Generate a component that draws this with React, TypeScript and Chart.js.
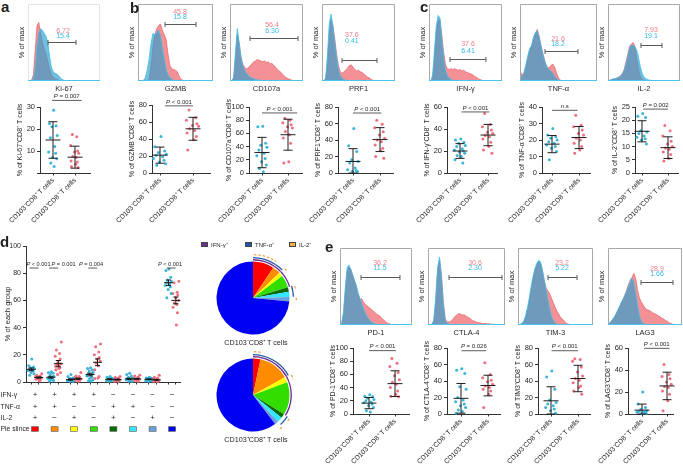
import React, { useEffect, useRef } from 'react';
import { Chart, registerables } from 'chart.js';

Chart.register(...registerables);

const FONT = "'Liberation Sans', Arial, Helvetica, sans-serif";
const INK = '#231f20';
const LBL_NEG = 'CD103⁻CD8⁺ T cells';
const LBL_POS = 'CD103⁺CD8⁺ T cells';

// ---------------- histogram data (x = % of gate box width, y = % of max) ----------------
const HX = [0,2.5,5,7.5,10,12.5,15,17.5,20,22.5,25,27.5,30,32.5,35,37.5,40,42.5,45,47.5,50,52.5,55,57.5,60,62.5,65,67.5,70,72.5,75,77.5,80,82.5,85,87.5,90,92.5,95,97.5,100];

const KI67_RED = [0,0,1,8,40,72,76,62,50,42,35,25,15,8,5,3,2,1,0];
const KI67_BLUE = [0,0,0,3,15,45,62,68,66,62,58,50,32,18,12,10,9,7,4,2,1,0.5,0];
const GZMB_RED = [0,0,0,0,0,0,3,20,45,60,68,72,74,66,60,54,35,20,16,15,14,12,6,2,1,0];
const GZMB_BLUE = [0,0,0,1,5,15,30,50,62,60,63,66,58,42,28,15,8,4,2,1,0];
const CD107A_RED = [0,0,3,30,60,50,32,22,18,16,17,20,22,25,26,28,27,26,25,26,24,25,22,23,20,18,15,13,11,8,6,4,3,2,1,0.5,0];
const CD107A_BLUE = [0,0,5,38,68,50,30,20,14,10,7,5,4,3,2,1.5,1,0.5,0];
const PRF1_RED = [0,0,2,20,60,80,72,55,35,20,12,10,12,14,17,20,21,18,15,13,14,12,11,9,7,5,4,2,1,0];
const PRF1_BLUE = [0,0,4,35,75,87,70,50,30,14,7,3,2,1,0.5,0];
const IFNG_RED = [0,0,5,30,65,78,80,60,38,22,16,15,16,15,16,15,14,15,13,14,12,11,10,9,8,6,5,3,2,1,0];
const IFNG_BLUE = [0,0,8,40,72,85,82,55,30,14,7,4,2,1,0];
const TNFA_RED = [14,8,10,18,30,40,45,55,62,67,58,45,35,25,18,17,20,22,18,10,4,1,0];
const TNFA_BLUE = [4,6,10,20,32,42,46,57,63,65,56,44,33,24,18,15,13,10,6,3,1,0.5,0];
const IL2_RED = [0,1,2,2,3,4,5,7,10,15,25,35,45,48,50,45,28,15,6,2,1,0];
const IL2_BLUE = [0,1,2,3,3,4,5,6,9,14,22,32,42,47,46,44,40,30,18,10,5,3,2,1,1,0.5,0];
const PD1_RED = [0,2,15,45,70,75,73,65,58,50,40,33,34,30,27,25,23,21,19,17,15,13,12,9,7,5,3,2,1,0];
const PD1_BLUE = [0,3,18,50,75,78,72,65,58,52,42,35,28,22,16,11,8,5,3,2,1,0];
const CTLA4_RED = [0,0,1,5,30,70,85,65,30,8,4,4,5,8,11,13,15,14,13,13,11,10,8,6,5,4,3,3,2,2,2,1.5,1.5,1,1,0.5,0.5,0];
const CTLA4_BLUE = [0,0,1,6,35,75,88,62,25,5,2,1,0.5,0];
const TIM3_RED = [0,0,1,3,8,18,30,45,60,70,78,82,80,70,58,48,44,40,34,28,22,17,13,9,7,4,2,1,0];
const TIM3_BLUE = [0,1,2,5,12,22,35,50,63,73,80,84,82,72,58,45,32,20,10,5,2,1,0];
const LAG3_RED = [1,2,5,8,12,17,22,28,32,38,45,52,58,62,67,60,45,35,30,26,22,20,19,18,16,15,14,12,11,9,8,6,5,3,2,1,0.5,0];
const LAG3_BLUE = [1,3,6,9,13,18,23,28,33,38,43,50,56,61,55,40,25,12,5,2,1,0];

const HIST_LABELS = ['Ki-67','GZMB','CD107a','PRF1','IFN-γ','TNF-α','IL-2','PD-1','CTLA-4','TIM-3','LAG3'];
const HIST_RED = [KI67_RED,GZMB_RED,CD107A_RED,PRF1_RED,IFNG_RED,TNFA_RED,IL2_RED,PD1_RED,CTLA4_RED,TIM3_RED,LAG3_RED];
const HIST_BLUE = [KI67_BLUE,GZMB_BLUE,CD107A_BLUE,PRF1_BLUE,IFNG_BLUE,TNFA_BLUE,IL2_BLUE,PD1_BLUE,CTLA4_BLUE,TIM3_BLUE,LAG3_BLUE];
const HIST_PCT_RED = ['6.72','45.8','56.4','37.6','37.6','21.6','7.93','36.2','30.6','23.2','28.9'];
const HIST_PCT_BLUE = ['15.4','15.8','6.30','0.41','6.41','18.2','19.1','11.5','2.30','5.22','1.66'];
const HIST_GATES = [[27.8,66.7,50.6],[36,77.3,74],[27.4,93.2,55.8],[27.4,75.3,27.3],[28.8,78,28.6],[32.5,75.3,39],[45.8,75,46.8],[29.2,83.3,62.3],[27.3,96.1,62.3],[40,78.7,62.3],[44.6,87.8,55.8]];

// ---------------- scatter data ----------------
const PTS_KI67_NEG = [28.5,22.5,21.5,21,17,16,12,9.5,9,7,6.5,4.5,3];
const PTS_KI67_POS = [17.5,16.5,12.5,10,9.5,9,7.5,7,5.5,5,4,3,2.5];
const PTS_GZMB_NEG = [43,31,26,24,22,21,19,17,15,13,11,9];
const PTS_GZMB_POS = [74,65,62,58,56,55,52,50,47,43,39,27];
const PTS_CD107A_NEG = [71,70,45,42,39,35,30,26,22,17,12,7,2];
const PTS_CD107A_POS = [83,80,76,73,70,68,63,58,53,45,17,15];
const PTS_PRF1_NEG = [54,33,26,16,14,12,6,4,3,2,1.5];
const PTS_PRF1_POS = [64,59,55,50,46,42,40,38,34,30,27,20,18];
const PTS_IFNG_NEG = [31,30,28,27,25,24,22,21,20,19,18,16,15,12,9];
const PTS_IFNG_POS = [54,44,42,39,37,36,34,33,31,28,24,21,18];
const PTS_TNFA_NEG = [27,23,22,21,20,19,18,17,16,15,13,8];
const PTS_TNFA_POS = [35,29,28,26,24,23,21,20,18,16,14,12];
const PTS_IL2_NEG = [22.5,21.5,21,16,15.5,15,14,13.5,13,12.5,11];
const PTS_IL2_POS = [18,16,14,12,11,10,9.5,9,8,7,5.5,4.5];
const PTS_PD1_NEG = [29,27,26,24,22,20,18,17,15,13,10,5,3];
const PTS_PD1_POS = [84,77,72,63,58,52,48,45,40,35,30,27,26];
const PTS_CTLA4_NEG = [55,53,49,33,30,20,17,15,12,10,8,5,3,1];
const PTS_CTLA4_POS = [62,48,44,41,39,36,34,32,30,28,24,8];
const PTS_TIM3_NEG = [52,45,30,17,14,12,10,8,6,4,1];
const PTS_TIM3_POS = [67,66,64,57,51,46,43,41,38,34,32,28,24];
const PTS_LAG3_NEG = [20,9,6,4,3,2.5,2,1.5,1,0.5,0.5];
const PTS_LAG3_POS = [45,36,34,32,29,27,25,24,21,18,12,3];

const SC_TITLES = ['% of Ki-67⁺CD8⁺ T cells','% of GZMB⁺CD8⁺ T cells','% of CD107a⁺CD8⁺ T cells','% of PRF1⁺CD8⁺ T cells','% of IFN-γ⁺CD8⁺ T cells','% of TNF-α⁺CD8⁺ T cells','% of IL-2⁺CD8⁺ T cells','% of PD-1⁺CD8⁺ T cells','% of CTLA-4⁺CD8⁺ T cells','% of TIM3⁺CD8⁺ T cells','% of LAG3⁺CD8⁺ T cells'];
const SC_NEG = [PTS_KI67_NEG,PTS_GZMB_NEG,PTS_CD107A_NEG,PTS_PRF1_NEG,PTS_IFNG_NEG,PTS_TNFA_NEG,PTS_IL2_NEG,PTS_PD1_NEG,PTS_CTLA4_NEG,PTS_TIM3_NEG,PTS_LAG3_NEG];
const SC_POS = [PTS_KI67_POS,PTS_GZMB_POS,PTS_CD107A_POS,PTS_PRF1_POS,PTS_IFNG_POS,PTS_TNFA_POS,PTS_IL2_POS,PTS_PD1_POS,PTS_CTLA4_POS,PTS_TIM3_POS,PTS_LAG3_POS];
const SC_MEAN = [[15,7.2],[21,52],[31,58],[14,40.5],[20,34.5],[17.5,21.5],[15.8,9.6],[16.5,46],[19,34.5],[16,43],[3.5,25.5]];
const SC_SD = [[8.3,5],[9.5,13.5],[23,23.5],[15.5,14.5],[6.7,9.7],[5.2,6.7],[4,4.1],[8.5,19.5],[18,12.5],[17,16],[5.5,12.5]];
const SC_P = ['P = 0.007','P < 0.001','P < 0.001','P < 0.001','P < 0.001','n.s','P = 0.002','P < 0.001','P = 0.026','P < 0.001','P < 0.001'];
const SC_YMAX = [30,80,100,80,60,40,25,100,80,80,60];
const SC_STEP = [10,20,20,20,20,10,5,20,20,20,20];

// ---------------- panel d data ----------------
const SUBSETS = ['IFN-γ⁺TNF-α⁺IL-2⁺','IFN-γ⁺TNF-α⁺','IFN-γ⁺IL-2⁺','IFN-γ⁺','TNF-α⁺IL-2⁺','TNF-α⁺','IL-2⁺','none'];
const IFN_SIGN = [1,1,1,1,0,0,0,0];
const TNF_SIGN = [1,1,0,0,1,1,0,0];
const IL2_SIGN = [1,0,1,0,1,0,1,0];
const D_NEG = [
  [17,12,11,10.5,10,9.5,9,8.5,8,7,6,5],
  [7.5,7,6.5,5.5,4,3.5,3,2.5,2,1.5,1,0.5],
  [5.5,4,3,2.5,2,1.5,1.5,1,1,0.5,0.5],
  [10.5,10,9,8,7,6,5,4.5,3.5,2.5,1.5,1,0.5],
  [4,3.5,3,2.5,2,2,1.5,1,1,0.5],
  [6.5,5.5,4.5,3.5,3,2.5,2,1.5,1,0.5,0.5],
  [3.5,3,3,2.5,2,2,1.5,1,1,0.5],
  [83,82,77,75,74,73,72,71,70,68,65,62],
];
const D_POS = [
  [6,5,4.5,4,3.5,3,3,2.5,2,2,1.5,1],
  [29.5,23.5,21,19,17,14.5,13.5,12.5,12,11.5,10.5,10,9,7,5.5],
  [7,4.5,4,3.5,3,2.5,2,2,1.5,1,1,0.5],
  [28,26,22,20,18,17,15.5,14,12,9,4,3,2.5],
  [4,3.5,3,2,2,1.5,1.5,1,1,0.5,0.5],
  [5,4.5,3.5,3,2.5,2,2,1.5,1,1,0.5],
  [5,3.5,3,2.5,2,1.5,1,1,0.5,0.5,0.5],
  [74,73,66,65,64,62,60,58,57,55,51,42],
];
const D_MEAN_NEG = [9.3,3.5,1.8,5.5,2.0,2.3,2.0,73.0];
const D_SEM_NEG = [1.0,0.7,0.5,1.0,0.4,0.5,0.3,2.0];
const D_MEAN_POS = [3.3,13.5,2.4,14.5,1.8,2.3,1.6,60.0];
const D_SEM_POS = [0.5,2.3,0.5,2.5,0.4,0.4,0.4,2.5];
const D_P = ['P < 0.001','P = 0.001','','P = 0.004','','','','P < 0.001'];
const PIE_NEG = [9.3,3.5,1.8,5.5,2.0,2.3,2.0,73.0];
const PIE_POS = [3.3,13.5,2.4,14.5,1.8,2.3,1.6,60.0];
const PIE_COLORS = ['#ff0000','#ff8c00','#ffff00','#33dd00','#0a6a0a','#33e6ff','#6c9fdc','#0000f2'];

// ---------------- layout (pixels) ----------------
const HIST_BOX = [[28,4,100,81],[138,4,213,81],[230,4,303,81],[322,4,395,81],[429,4,502,81],[520,4,597,81],[608,4,680,81],[340,248,412,325],[428,248,505,325],[518,248,593,325],[608,248,682,325]];
const HIST_TEXT_POS = [[48.6,65,58.4],[56,89.6,83],[57.5,72.7,65],[41,59.7,52],[53.4,48,39],[49.4,54.5,48],[59.7,66.2,58.4],[55.6,80.5,74],[61,80.5,74],[58.7,80.5,74],[66.2,72.7,66.2]];
const SC_GEO = [[40,90,107,173,53,75],[152,210,105,173,160,193],[249,302,107,173,262,288],[338,393,107,173,353,380],[447,497,107,173,460,488],[542,590,107,173,552,579],[635,678,107,173,642,668],[353,409,348,414,369,395],[447,500,348,414,461,488],[538,590,348,414,551,578],[628,673,348,414,642,667]];
const SC_PLINE = [[-0.05,1.3,33],[0.15,1.0,79],[0,1.35,91],[0,1.05,72.7],[0.05,1.05,55.5],[0,0.95,38],[0.05,1.0,24.2],[0,1.04,96],[0.02,0.93,76.7],[0.02,1.0,76.7],[0.08,1.1,59.7]];
const JIT = [0.03,-0.16,0.14,-0.05,0.19,-0.12,0.08,-0.2,0.12,-0.02,0.17,-0.1,0.05,-0.18,0.1];
const D_OFF = 0.19;
const D_P_TEXT_X = [0.18,1.46,0,2.86,0,0,0,6.89];
const D_P_LINE_Y = 83.8;

const BLUE_PT = '#3cb4d8';
const RED_PT = '#ef6f7e';

const BASE = { animation: false, responsive: false, maintainAspectRatio: false, events: [], devicePixelRatio: 1 };
const NOPLUG = { legend: { display: false }, tooltip: { enabled: false } };

function drawPText(ctx: CanvasRenderingContext2D, txt: string, cx: number, cy: number, size: number) {
  ctx.textBaseline = 'middle';
  ctx.fillStyle = INK;
  if (txt.charAt(0) === 'P') {
    const rest = txt.slice(1);
    ctx.font = `italic ${size}px ${FONT}`;
    const w1 = ctx.measureText('P').width;
    ctx.font = `${size}px ${FONT}`;
    const w2 = ctx.measureText(rest).width;
    const x0 = cx - (w1 + w2) / 2;
    ctx.textAlign = 'left';
    ctx.font = `italic ${size}px ${FONT}`;
    ctx.fillText('P', x0, cy);
    ctx.font = `${size}px ${FONT}`;
    ctx.fillText(rest, x0 + w1, cy);
  } else {
    ctx.textAlign = 'center';
    ctx.font = `${size}px ${FONT}`;
    ctx.fillText(txt, cx, cy);
  }
}

function histConfig(i: number): any {
  const pts = (a: number[]) => a.map((v, k) => ({ x: HX[k], y: v }));
  const faint = i === 0;
  return {
    type: 'line',
    data: {
      datasets: [
        { data: pts(HIST_BLUE[i]), fill: 'origin', backgroundColor: 'rgba(48,158,205,0.68)', borderColor: '#3cbfe8', borderWidth: 0.8, pointRadius: 0, tension: 0 },
        { data: pts(HIST_RED[i]), fill: 'origin', backgroundColor: 'rgba(240,108,116,0.75)', borderColor: 'rgba(226,84,92,0.9)', borderWidth: 0.7, pointRadius: 0, tension: 0 },
      ],
    },
    options: {
      ...BASE,
      layout: { padding: { top: 1, right: 1, left: 0, bottom: 0 } },
      plugins: NOPLUG,
      scales: {
        x: {
          type: 'linear', min: 0, max: 100, stacked: false,
          ticks: { display: false }, grid: { display: false }, border: { display: false },
          title: { display: true, text: HIST_LABELS[i], color: INK, font: { family: FONT, size: 7.5 }, padding: 0 },
          afterFit: (s: any) => { s.height = 12; },
        },
        y: {
          type: 'linear', min: 0, max: 100, stacked: false,
          ticks: { display: false }, grid: { display: false }, border: { display: false },
          title: { display: true, text: '% of max', color: INK, font: { family: FONT, size: 7.5 }, padding: { top: 1.5, bottom: 0 } },
          afterFit: (s: any) => { s.width = 12; },
        },
      },
    },
    plugins: [{
      id: 'hist' + i,
      afterDatasetsDraw(chart: any) {
        const { ctx, chartArea: a, scales: { x, y } } = chart;
        ctx.save();
        ctx.lineWidth = 1;
        ctx.strokeStyle = faint ? '#e4e4e4' : '#a9a9a9';
        ctx.beginPath();
        ctx.moveTo(a.left + 0.5, a.bottom);
        ctx.lineTo(a.left + 0.5, a.top + 0.5);
        ctx.lineTo(a.right - 0.5, a.top + 0.5);
        ctx.lineTo(a.right - 0.5, a.bottom);
        ctx.stroke();
        ctx.strokeStyle = '#4cc4ea';
        ctx.beginPath();
        ctx.moveTo(a.left, a.bottom - 0.5);
        ctx.lineTo(a.right, a.bottom - 0.5);
        ctx.stroke();
        const [g0, g1, gy] = HIST_GATES[i];
        const p0 = x.getPixelForValue(g0), p1 = x.getPixelForValue(g1), py = Math.round(y.getPixelForValue(gy)) + 0.5;
        ctx.strokeStyle = '#5a5a5a';
        ctx.beginPath();
        ctx.moveTo(p0, py); ctx.lineTo(p1, py);
        ctx.moveTo(p0, py - 2.5); ctx.lineTo(p0, py + 2.5);
        ctx.moveTo(p1, py - 2.5); ctx.lineTo(p1, py + 2.5);
        ctx.stroke();
        const [tx, tyR, tyB] = HIST_TEXT_POS[i];
        ctx.font = `7px ${FONT}`;
        ctx.textAlign = 'center';
        ctx.textBaseline = 'middle';
        ctx.fillStyle = '#f07c86';
        ctx.fillText(HIST_PCT_RED[i], x.getPixelForValue(tx), y.getPixelForValue(tyR));
        ctx.fillStyle = '#34b9e4';
        ctx.fillText(HIST_PCT_BLUE[i], x.getPixelForValue(tx), y.getPixelForValue(tyB));
        ctx.restore();
      },
    }],
  };
}

const SC_PL = 34, SC_PR = 4, SC_PT = 18, SC_YW = 24;

function scatterConfig(i: number): any {
  const [axisX, axisEnd, yTop, yBot, gx0, gx1] = SC_GEO[i];
  const unit = gx1 - gx0;
  const xmin = (axisX - gx0) / unit;
  const xmax = 1 + (axisEnd - gx1) / unit;
  const XH = yBot < 300 ? 64 : 52;
  return {
    type: 'scatter',
    data: {
      datasets: [
        { data: SC_NEG[i].map((v, k) => ({ x: JIT[k % JIT.length], y: v })), backgroundColor: BLUE_PT, pointRadius: 1.5, borderWidth: 0, clip: 4 },
        { data: SC_POS[i].map((v, k) => ({ x: 1 + JIT[(k + 5) % JIT.length], y: v })), backgroundColor: RED_PT, pointRadius: 1.5, borderWidth: 0, clip: 4 },
      ],
    },
    options: {
      ...BASE,
      layout: { padding: { top: SC_PT, left: SC_PL, right: SC_PR, bottom: 0 } },
      plugins: NOPLUG,
      scales: {
        x: {
          type: 'linear', min: xmin, max: xmax, stacked: false,
          afterBuildTicks: (s: any) => { s.ticks = [{ value: 0 }, { value: 1 }]; },
          ticks: { callback: (v: number) => (v === 0 ? LBL_NEG : LBL_POS), minRotation: 45, maxRotation: 45, autoSkip: false, font: { family: FONT, size: 6.8 }, color: INK, padding: 1 },
          grid: { display: true, drawOnChartArea: false, drawTicks: true, tickLength: 2.5, color: '#333', lineWidth: 1 },
          border: { display: true, color: '#333', width: 1 },
          afterFit: (s: any) => { s.height = XH; },
        },
        y: {
          min: 0, max: SC_YMAX[i], stacked: false,
          ticks: { stepSize: SC_STEP[i], font: { family: FONT, size: 7.5 }, color: INK, padding: 2, callback: (v: number) => (i === 0 && v === 0 ? '' : String(v)) },
          grid: { display: true, drawOnChartArea: false, drawTicks: true, tickLength: 3, color: '#333', lineWidth: 1 },
          border: { display: true, color: '#333', width: 1 },
          title: { display: true, text: SC_TITLES[i], color: INK, font: { family: FONT, size: 7 }, padding: 0 },
          afterFit: (s: any) => { s.width = SC_YW; },
        },
      },
    },
    plugins: [{
      id: 'sc' + i,
      afterDatasetsDraw(chart: any) {
        const { ctx, scales: { x, y } } = chart;
        ctx.save();
        ctx.strokeStyle = '#1e1e1e';
        ctx.lineWidth = 1;
        for (let g = 0; g < 2; g++) {
          const m = SC_MEAN[i][g], sd = SC_SD[i][g];
          const px = x.getPixelForValue(g);
          const pm = y.getPixelForValue(m), ph = y.getPixelForValue(m + sd), pl = y.getPixelForValue(Math.max(0, m - sd));
          ctx.beginPath();
          ctx.moveTo(px - 7.5, pm); ctx.lineTo(px + 7.5, pm);
          ctx.moveTo(px, ph); ctx.lineTo(px, pl);
          ctx.moveTo(px - 4.5, ph); ctx.lineTo(px + 4.5, ph);
          ctx.moveTo(px - 4.5, pl); ctx.lineTo(px + 4.5, pl);
          ctx.stroke();
        }
        const [x0, x1, yv] = SC_PLINE[i];
        const py = y.getPixelForValue(yv);
        const a0 = x.getPixelForValue(x0), a1 = x.getPixelForValue(x1);
        ctx.lineWidth = 0.8;
        ctx.strokeStyle = '#333';
        ctx.beginPath(); ctx.moveTo(a0, py); ctx.lineTo(a1, py); ctx.stroke();
        drawPText(ctx, SC_P[i], (a0 + a1) / 2, py - 4, 6);
        ctx.restore();
      },
    }],
  };
}

function dConfig(): any {
  const negPts = D_NEG.flatMap((col, i) => col.map((v, k) => ({ x: i - D_OFF + JIT[k % JIT.length] * 0.8, y: v })));
  const posPts = D_POS.flatMap((col, i) => col.map((v, k) => ({ x: i + D_OFF + JIT[(k + 4) % JIT.length] * 0.8, y: v })));
  return {
    type: 'scatter',
    data: {
      datasets: [
        { data: negPts, backgroundColor: BLUE_PT, pointRadius: 1.5, borderWidth: 0, clip: 4 },
        { data: posPts, backgroundColor: RED_PT, pointRadius: 1.5, borderWidth: 0, clip: 4 },
      ],
    },
    options: {
      ...BASE,
      layout: { padding: { top: 10, left: 0, right: 10, bottom: 55 } },
      plugins: NOPLUG,
      scales: {
        x: {
          type: 'linear', min: -0.46, max: 7.4, stacked: false,
          afterBuildTicks: (s: any) => { s.ticks = D_NEG.flatMap((_, i) => [{ value: i - D_OFF }, { value: i + D_OFF }]); },
          ticks: { callback: () => '', autoSkip: false, padding: 0 },
          grid: { display: true, drawOnChartArea: false, drawTicks: true, tickLength: 2.5, color: '#333', lineWidth: 1 },
          border: { display: true, color: '#333', width: 1 },
          afterFit: (s: any) => { s.height = 4; },
        },
        y: {
          min: 0, max: 100, stacked: false,
          ticks: { stepSize: 20, font: { family: FONT, size: 7 }, color: INK, padding: 2 },
          grid: { display: true, drawOnChartArea: false, drawTicks: true, tickLength: 3, color: '#333', lineWidth: 1 },
          border: { display: true, color: '#333', width: 1 },
          title: { display: true, text: '% of each group', color: INK, font: { family: FONT, size: 7.5 }, padding: { top: 3, bottom: 0 } },
          afterFit: (s: any) => { s.width = 26; },
        },
      },
    },
    plugins: [{
      id: 'dplot',
      afterDatasetsDraw(chart: any) {
        const { ctx, chartArea: a, scales: { x, y } } = chart;
        ctx.save();
        ctx.strokeStyle = '#1a1a1a';
        ctx.lineWidth = 1;
        for (let i = 0; i < D_NEG.length; i++) {
          const bars = [[i - D_OFF, D_MEAN_NEG[i], D_SEM_NEG[i]], [i + D_OFF, D_MEAN_POS[i], D_SEM_POS[i]]];
          for (const [cx, m, e] of bars) {
            const px = x.getPixelForValue(cx), pm = y.getPixelForValue(m), ph = y.getPixelForValue(m + e), pl = y.getPixelForValue(m - e);
            ctx.beginPath();
            ctx.moveTo(px - 4.5, pm); ctx.lineTo(px + 4.5, pm);
            ctx.moveTo(px, ph); ctx.lineTo(px, pl);
            ctx.moveTo(px - 2.5, ph); ctx.lineTo(px + 2.5, ph);
            ctx.moveTo(px - 2.5, pl); ctx.lineTo(px + 2.5, pl);
            ctx.stroke();
          }
        }
        const py = y.getPixelForValue(D_P_LINE_Y);
        ctx.lineWidth = 0.8;
        for (let i = 0; i < D_P.length; i++) {
          if (!D_P[i]) continue;
          ctx.strokeStyle = '#333';
          ctx.beginPath();
          ctx.moveTo(x.getPixelForValue(i - 0.28), py);
          ctx.lineTo(x.getPixelForValue(i + 0.18), py);
          ctx.stroke();
          drawPText(ctx, D_P[i], x.getPixelForValue(D_P_TEXT_X[i]), py - 3.5, 5.6);
        }
        const rows: [string, number[]][] = [['IFN-γ', IFN_SIGN], ['TNF-α', TNF_SIGN], ['IL-2', IL2_SIGN]];
        const offs = [13, 25, 36];
        rows.forEach(([lab, signs], r) => {
          const cy = a.bottom + offs[r];
          ctx.fillStyle = INK;
          ctx.font = `6.8px ${FONT}`;
          ctx.textAlign = 'left';
          ctx.textBaseline = 'middle';
          ctx.fillText(lab, 0.5, cy);
          ctx.textAlign = 'center';
          ctx.font = `8px ${FONT}`;
          signs.forEach((s, k) => ctx.fillText(s ? '+' : '−', x.getPixelForValue(k), cy));
        });
        const cyPie = a.bottom + 47;
        ctx.textAlign = 'left';
        ctx.font = `6.8px ${FONT}`;
        ctx.fillStyle = INK;
        ctx.fillText('Pie slince', 0.5, cyPie);
        ctx.lineWidth = 0.6;
        PIE_COLORS.forEach((c, k) => {
          const cx = x.getPixelForValue(k);
          ctx.fillStyle = c;
          ctx.fillRect(cx - 3.5, cyPie - 2.3, 7, 4.6);
          ctx.strokeStyle = '#555';
          ctx.strokeRect(cx - 3.5, cyPie - 2.3, 7, 4.6);
        });
        ctx.restore();
      },
    }],
  };
}

function pieConfig(vals: number[]): any {
  const ring = (member: number[], color: string, w: number) => ({ data: vals, backgroundColor: member.map((m) => (m ? color : 'rgba(0,0,0,0)')), borderWidth: 0, weight: w });
  const gap = (w: number) => ({ data: vals, backgroundColor: 'rgba(0,0,0,0)', borderWidth: 0, weight: w });
  return {
    type: 'pie',
    data: {
      labels: SUBSETS,
      datasets: [
        gap(1.3),
        gap(1.7),
        ring(TNF_SIGN, '#2157a5', 1.3),
        gap(0.8),
        ring(IFN_SIGN, '#6a2c8e', 1.3),
        gap(1.1),
        { data: vals, backgroundColor: PIE_COLORS, borderWidth: 0, weight: 36.5 },
      ],
    },
    options: { ...BASE, radius: 44, plugins: NOPLUG, layout: { padding: 0 } },
    plugins: [{
      id: 'il2ring',
      afterDatasetsDraw(chart: any) {
        const { ctx } = chart;
        const meta = chart.getDatasetMeta(0);
        ctx.save();
        ctx.strokeStyle = '#f2a450';
        ctx.lineWidth = 1.3;
        ctx.setLineDash([2.6, 1.8]);
        meta.data.forEach((arc: any, k: number) => {
          if (!IL2_SIGN[k]) return;
          const p = arc.getProps(['x', 'y', 'startAngle', 'endAngle', 'innerRadius', 'outerRadius']);
          ctx.beginPath();
          ctx.arc(p.x, p.y, (p.innerRadius + p.outerRadius) / 2, p.startAngle + 0.02, p.endAngle - 0.02);
          ctx.stroke();
        });
        ctx.restore();
      },
    }],
  };
}

function ChartCanvas({ x, y, w, h, make }: any) {
  const ref = useRef<HTMLCanvasElement | null>(null);
  useEffect(() => {
    if (!ref.current) return;
    const c = new Chart(ref.current, make());
    return () => c.destroy();
  }, []);
  return <canvas ref={ref} width={w} height={h} style={{ position: 'absolute', left: x, top: y, width: w, height: h }} />;
}

const LETTERS: [string, number, number][] = [['a', 1, -1], ['b', 130, 0], ['c', 420, -1], ['d', 0, 234], ['e', 325, 239]];
const LEGEND: [string, string, number][] = [['IFN-γ⁺', '#6a2c8e', 201], ['TNF-α⁺', '#2157a5', 245], ['IL-2⁺', '#f2b040', 289]];

export default function App() {
  return (
    <div style={{ position: 'absolute', left: 0, top: 0, width: 683, height: 466, background: '#fff', overflow: 'hidden', fontFamily: FONT, color: INK }}>
      {HIST_BOX.map(([l, t, r, b], i) => (
        <ChartCanvas key={'h' + i} x={l - 12} y={t - 1} w={r - l + 13} h={b - t + 13} make={() => histConfig(i)} />
      ))}
      {SC_GEO.map(([axisX, axisEnd, yTop, yBot], i) => {
        const XH = yBot < 300 ? 64 : 52;
        return (
          <ChartCanvas key={'s' + i} x={axisX - SC_YW - SC_PL} y={yTop - SC_PT} w={SC_PL + SC_YW + (axisEnd - axisX) + SC_PR} h={SC_PT + (yBot - yTop) + XH} make={() => scatterConfig(i)} />
        );
      })}
      <ChartCanvas x={0} y={236} w={190} h={205} make={dConfig} />
      <ChartCanvas x={203} y={248} w={100} h={100} make={() => pieConfig(PIE_NEG)} />
      <ChartCanvas x={203} y={345} w={100} h={100} make={() => pieConfig(PIE_POS)} />
      {LETTERS.map(([t, l, tp]) => (
        <div key={t} style={{ position: 'absolute', left: l, top: tp, fontSize: 15, fontWeight: 'bold', lineHeight: '15px' }}>{t}</div>
      ))}
      {LEGEND.map(([t, c, lx]) => (
        <React.Fragment key={t}>
          <div style={{ position: 'absolute', left: lx, top: 242, width: 7, height: 5, background: c, border: '0.5px solid #444', boxSizing: 'border-box' }} />
          <div style={{ position: 'absolute', left: lx + 10, top: 240.5, fontSize: 6, lineHeight: '8px', whiteSpace: 'nowrap' }}>{t}</div>
        </React.Fragment>
      ))}
      <div style={{ position: 'absolute', left: 206, width: 100, top: 339, textAlign: 'center', fontSize: 7.2, lineHeight: '8px', whiteSpace: 'nowrap' }}>{LBL_NEG}</div>
      <div style={{ position: 'absolute', left: 206, width: 100, top: 436, textAlign: 'center', fontSize: 7.2, lineHeight: '8px', whiteSpace: 'nowrap' }}>{LBL_POS}</div>
    </div>
  );
}
